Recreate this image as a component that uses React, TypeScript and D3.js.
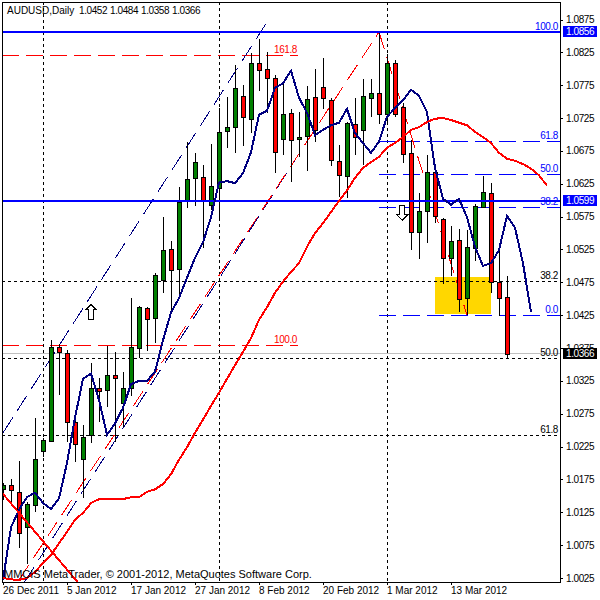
import React from 'react';
import * as d3 from 'd3';

const symbolTitle = 'AUDUSD,Daily';
const ohlcText = ['1.0452', '1.0484', '1.0358', '1.0366'];
const copyrightText = 'MMCIS MetaTrader, © 2001-2012, MetaQuotes Software Corp.';

const opens = [1.0161, 1.0166, 1.0156, 1.0102, 1.0136, 1.0218, 1.0233, 1.0376, 1.0367, 1.0263, 1.0206, 1.0242, 1.0314, 1.0311, 1.0334, 1.0291, 1.0314, 1.0375, 1.0436, 1.0421, 1.0479, 1.0526, 1.0495, 1.0599, 1.0634, 1.0635, 1.0593, 1.0619, 1.0705, 1.0711, 1.0759, 1.0724, 1.0809, 1.08, 1.0786, 1.0693, 1.0733, 1.0693, 1.0698, 1.0757, 1.0772, 1.0752, 1.066, 1.0637, 1.0716, 1.0707, 1.0756, 1.0763, 1.0731, 1.0809, 1.0742, 1.0672, 1.0552, 1.0584, 1.0643, 1.0571, 1.0512, 1.0539, 1.0451, 1.0527, 1.059, 1.0611, 1.0476, 1.0452];
const highs = [1.017, 1.0176, 1.0203, 1.0141, 1.0269, 1.0238, 1.0387, 1.0381, 1.0372, 1.0266, 1.0258, 1.0352, 1.033, 1.0378, 1.0369, 1.0339, 1.0451, 1.0439, 1.0437, 1.0489, 1.0574, 1.0538, 1.062, 1.0689, 1.0672, 1.0654, 1.0686, 1.074, 1.0757, 1.0806, 1.0775, 1.0824, 1.0845, 1.0826, 1.0791, 1.0778, 1.0739, 1.0734, 1.0774, 1.08, 1.0816, 1.0755, 1.0684, 1.0719, 1.0755, 1.0784, 1.0784, 1.0856, 1.0822, 1.0813, 1.0748, 1.0692, 1.0611, 1.0669, 1.0649, 1.0573, 1.0561, 1.0556, 1.0555, 1.0594, 1.0637, 1.0626, 1.0523, 1.0484];
const lows = [1.0144, 1.0139, 1.0071, 1.0046, 1.0126, 1.0209, 1.0232, 1.0304, 1.0232, 1.0202, 1.0147, 1.023, 1.0263, 1.0285, 1.0232, 1.0255, 1.0302, 1.036, 1.037, 1.0383, 1.0459, 1.043, 1.0453, 1.0588, 1.0591, 1.0527, 1.0585, 1.057, 1.0679, 1.0672, 1.0682, 1.0702, 1.0766, 1.0733, 1.0641, 1.0669, 1.0628, 1.0665, 1.0644, 1.0689, 1.0739, 1.0652, 1.0605, 1.0603, 1.0669, 1.0654, 1.0727, 1.0716, 1.0719, 1.0727, 1.0657, 1.0524, 1.051, 1.0535, 1.0565, 1.0472, 1.0485, 1.043, 1.0425, 1.0507, 1.0588, 1.0459, 1.0424, 1.0358];
const closes = [1.0166, 1.0159, 1.0094, 1.0138, 1.0206, 1.0235, 1.0376, 1.0369, 1.0263, 1.0229, 1.024, 1.0314, 1.031, 1.0334, 1.0329, 1.0314, 1.0376, 1.0437, 1.0419, 1.0486, 1.0524, 1.0494, 1.0597, 1.0632, 1.0658, 1.0599, 1.0622, 1.0704, 1.0711, 1.0771, 1.0727, 1.0809, 1.0798, 1.0786, 1.0673, 1.0731, 1.0692, 1.0696, 1.0754, 1.0707, 1.0756, 1.0661, 1.0638, 1.0718, 1.0696, 1.0759, 1.0763, 1.0731, 1.0809, 1.0731, 1.067, 1.0552, 1.0584, 1.0643, 1.0576, 1.0512, 1.0538, 1.045, 1.0529, 1.0591, 1.0612, 1.0476, 1.0451, 1.0366];

// moving averages, the chart shows them shifted forward so they run past the last bar
const fastMa = [1.0022, 1.0102, 1.0129, 1.0148, 1.0155, 1.0139, 1.013, 1.0146, 1.02, 1.0269, 1.0328, 1.0336, 1.0296, 1.0243, 1.026, 1.0284, 1.032, 1.0325, 1.0325, 1.0339, 1.0387, 1.0429, 1.0451, 1.0482, 1.0512, 1.0536, 1.0574, 1.0627, 1.0629, 1.0626, 1.0641, 1.0673, 1.073, 1.0736, 1.0771, 1.0778, 1.0797, 1.0756, 1.0733, 1.0699, 1.0707, 1.0714, 1.0718, 1.0739, 1.0702, 1.0687, 1.0672, 1.0689, 1.0727, 1.074, 1.0752, 1.0768, 1.0759, 1.0734, 1.0649, 1.0602, 1.0593, 1.0602, 1.0574, 1.0529, 1.05, 1.0504, 1.0524, 1.0576, 1.0558, 1.0504, 1.043];
const slowMa = [1.0025, 1.0023, 1.0022, 1.0025, 1.0034, 1.0048, 1.006, 1.0078, 1.0095, 1.0114, 1.0124, 1.0139, 1.0145, 1.0145, 1.0145, 1.0145, 1.0148, 1.0148, 1.0156, 1.016, 1.0168, 1.0183, 1.0205, 1.0224, 1.0246, 1.0266, 1.0287, 1.0307, 1.0328, 1.0349, 1.0369, 1.039, 1.0418, 1.0437, 1.0459, 1.0476, 1.0491, 1.0504, 1.0529, 1.055, 1.0565, 1.0582, 1.0599, 1.0615, 1.0634, 1.0649, 1.0658, 1.0666, 1.068, 1.0687, 1.0696, 1.0707, 1.0711, 1.0719, 1.0724, 1.0725, 1.0722, 1.0718, 1.0714, 1.0704, 1.0696, 1.0687, 1.0672, 1.0663, 1.066, 1.0655, 1.0648, 1.0638, 1.0622];

const priceTicks = [1.0875, 1.0825, 1.0775, 1.0725, 1.0675, 1.0625, 1.0575, 1.0525, 1.0475, 1.0425, 1.0375, 1.0325, 1.0275, 1.0225, 1.0175, 1.0125, 1.0075, 1.0025];
const dateTicks: [number, string][] = [[0, '26 Dec 2011'], [8, '5 Jan 2012'], [16, '17 Jan 2012'], [24, '27 Jan 2012'], [32, '8 Feb 2012'], [40, '20 Feb 2012'], [48, '1 Mar 2012'], [56, '13 Mar 2012']];

const gridBars = [5, 27, 48];
const gridPrices = [1.0477, 1.036, 1.0243];
const gridLabels = ['38.2', '50.0', '61.8'];
const redLevels = [1.0821, 1.038];
const redLabels = ['161.8', '100.0'];
const blueLevels = [1.069, 1.064, 1.059, 1.0425];
const blueLabels = ['61.8', '50.0', '38.2', '0.0'];
const resistance = [1.0856, 1.0599];
const lastPrice = 1.0366;

// [bar, price, bar, price]
const blueChannel = [[0, 1.0246, 33, 1.0871], [2.69, 1.0019, 36.75, 1.0666]];
const redSwing = [[2, 1.0022, 47, 1.0856], [47, 1.0856, 58, 1.0425]];
const redCross = [0, 1.0153, 10, 1.0009];
const goldBox = [54, 1.0483, 61, 1.0427];
const upArrow = [11, 1.043];
const downArrow = [49.9, 1.0581];

const FONT = '"Liberation Sans", Arial, sans-serif';
const BLUE = '#0000ff';
const RED = '#ff0000';
const NAVY = '#000080';
const GREEN = '#008000';

const left = 2;
const right = 560;
const top = 2;
const bottom = 582;

const x = d3.scaleLinear().domain([0, 1]).range([3, 11]);
const y = d3.scaleLinear().domain([1.0025, 1.0875]).range([578, 19.5]);

const App: React.FC = () => {
  const maLine = d3.line<number>().x((_, i) => x(i)).y((d) => y(d));
  const bars = d3.range(opens.length);
  const labelY = (p: number) => Math.round(y(p) + 3.5);

  return (
    <svg width={600} height={600} style={{ position: 'absolute', left: 0, top: 0, background: 'white' }} fontFamily={FONT} shapeRendering="crispEdges">
      <defs>
        <clipPath id="plot">
          <rect x={left} y={top} width={right - left} height={bottom - top} />
        </clipPath>
      </defs>

      <g clipPath="url(#plot)">
        {/* Gold box sits behind everything */}
        <rect
          x={x(goldBox[0])}
          y={y(goldBox[1])}
          width={x(goldBox[2]) - x(goldBox[0])}
          height={y(goldBox[3]) - y(goldBox[1])}
          fill="#ffd700"
        />

        {/* Grid */}
        {gridBars.map((b) => (
          <line key={b} x1={x(b) + 0.5} x2={x(b) + 0.5} y1={top} y2={bottom} stroke="#000" strokeDasharray="3 3" />
        ))}
        {gridPrices.map((p) => (
          <line key={p} x1={left} x2={right} y1={Math.round(y(p)) + 0.5} y2={Math.round(y(p)) + 0.5} stroke="#000" strokeDasharray="3 3" />
        ))}

        {/* Bid line */}
        <line x1={left} x2={right} y1={y(lastPrice)} y2={y(lastPrice)} stroke="#c0c0c0" />

        {/* Fibonacci levels */}
        {redLevels.map((p) => (
          <line key={p} x1={left} x2={298} y1={Math.round(y(p)) + 0.5} y2={Math.round(y(p)) + 0.5} stroke={RED} strokeDasharray="17 7" />
        ))}
        {blueLevels.map((p) => (
          <line key={p} x1={379} x2={right} y1={Math.round(y(p)) + 0.5} y2={Math.round(y(p)) + 0.5} stroke={BLUE} strokeDasharray="17 7" />
        ))}

        {/* Channel */}
        {blueChannel.map((d, i) => (
          <line key={i} x1={x(d[0])} y1={y(d[1])} x2={x(d[2])} y2={y(d[3])} stroke={NAVY} strokeDasharray="18 8" />
        ))}
        {redSwing.map((d, i) => (
          <line key={i} x1={x(d[0])} y1={y(d[1])} x2={x(d[2])} y2={y(d[3])} stroke={RED} strokeDasharray="18 8" />
        ))}

        {/* Candles */}
        {bars.map((i) => {
          const up = closes[i] >= opens[i];
          const bodyTop = Math.round(y(Math.max(opens[i], closes[i])));
          const bodyBottom = Math.round(y(Math.min(opens[i], closes[i])));
          return (
            <g key={i}>
              <line x1={x(i) + 0.5} x2={x(i) + 0.5} y1={y(highs[i])} y2={y(lows[i])} stroke="#000" />
              <rect x={x(i) - 2 + 0.5} y={bodyTop + 0.5} width={4} height={Math.max(bodyBottom - bodyTop, 1)} fill={up ? GREEN : RED} stroke="#000" />
            </g>
          );
        })}

        {/* Resistance lines */}
        {resistance.map((p) => (
          <line key={p} x1={left} x2={right} y1={y(p)} y2={y(p)} stroke={BLUE} strokeWidth={2} />
        ))}

        {/* Moving averages */}
        <path d={maLine(fastMa) ?? ''} fill="none" stroke={NAVY} strokeWidth={2} />
        <path d={maLine(slowMa) ?? ''} fill="none" stroke={RED} strokeWidth={2} />
        <line x1={x(redCross[0])} y1={y(redCross[1])} x2={x(redCross[2])} y2={y(redCross[3])} stroke={RED} strokeWidth={2} />

        {/* Arrows */}
        <path
          transform={`translate(${x(upArrow[0])},${y(upArrow[1])})`}
          d="M0,-7.5 L5.5,-2 L2.5,-2 L2.5,7.5 L-2.5,7.5 L-2.5,-2 L-5.5,-2 Z"
          fill="#fff"
          stroke="#000"
        />
        <path
          transform={`translate(${x(downArrow[0])},${y(downArrow[1])})`}
          d="M0,7.5 L5.5,2 L2.5,2 L2.5,-7.5 L-2.5,-7.5 L-2.5,2 L-5.5,2 Z"
          fill="#fff"
          stroke="#000"
        />
      </g>

      {/* Frame */}
      <rect x={left} y={top} width={right - left} height={bottom - top} fill="none" stroke="#000" strokeWidth={1} />

      {/* Titles */}
      <text x={7} y={14} fontSize={10} fill="#000">{symbolTitle}</text>
      {ohlcText.map((t, i) => (
        <text key={t} x={79 + i * 31} y={14} fontSize={10} letterSpacing={-0.4} fill="#000">{t}</text>
      ))}
      <text x={4} y={578} fontSize={11} fill="#000">{copyrightText}</text>

      {/* Level labels */}
      {redLevels.map((p, i) => (
        <text key={p} x={297} y={Math.round(y(p)) - 2} fontSize={10} letterSpacing={-0.4} fill={RED} textAnchor="end">{redLabels[i]}</text>
      ))}
      <text x={558} y={Math.round(y(resistance[0])) - 2} fontSize={10} letterSpacing={-0.4} fill={BLUE} textAnchor="end">100.0</text>
      {blueLevels.map((p, i) => (
        <text key={p} x={558} y={Math.round(y(p)) - 2} fontSize={10} letterSpacing={-0.4} fill={BLUE} textAnchor="end">{blueLabels[i]}</text>
      ))}
      {gridPrices.map((p, i) => (
        <text key={p} x={558} y={Math.round(y(p)) - 2} fontSize={10} letterSpacing={-0.4} fill="#000" textAnchor="end">{gridLabels[i]}</text>
      ))}

      {/* Price axis */}
      {priceTicks.map((p) => (
        <g key={p}>
          <line x1={right} x2={right + 3} y1={Math.round(y(p)) + 0.5} y2={Math.round(y(p)) + 0.5} stroke="#000" />
          <text x={566} y={labelY(p)} fontSize={10} letterSpacing={-0.4} fill="#000">{p.toFixed(4)}</text>
        </g>
      ))}
      {resistance.map((p) => (
        <g key={p}>
          <rect x={563} y={labelY(p) - 9} width={34} height={11} fill={BLUE} />
          <text x={566} y={labelY(p)} fontSize={10} letterSpacing={-0.4} fill="#fff">{p.toFixed(4)}</text>
        </g>
      ))}
      <rect x={563} y={labelY(lastPrice) - 9} width={34} height={11} fill="#000" />
      <text x={566} y={labelY(lastPrice)} fontSize={10} letterSpacing={-0.4} fill="#fff">{lastPrice.toFixed(4)}</text>

      {/* Date axis */}
      {dateTicks.map(([b, label]) => (
        <g key={b}>
          <line x1={x(b) + 0.5} x2={x(b) + 0.5} y1={bottom} y2={bottom + 3} stroke="#000" />
          <text x={x(b)} y={594} fontSize={10} fill="#000">{label}</text>
        </g>
      ))}
    </svg>
  );
};

export default App;
